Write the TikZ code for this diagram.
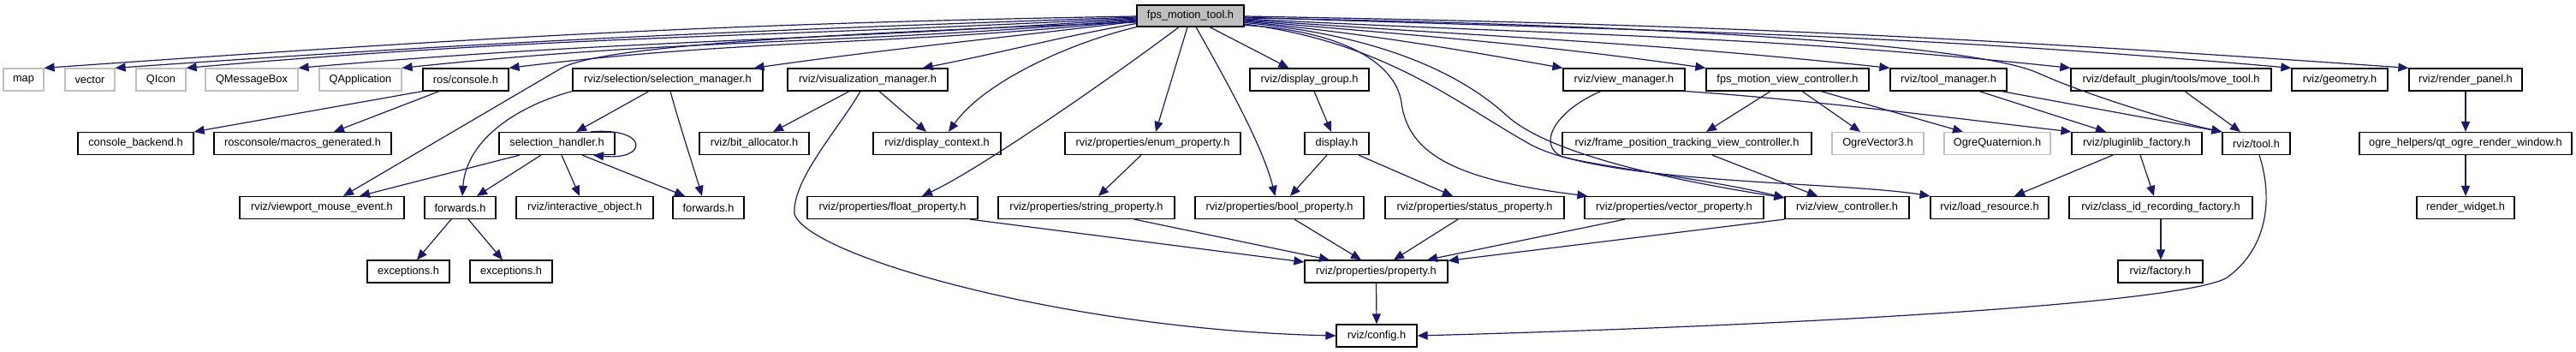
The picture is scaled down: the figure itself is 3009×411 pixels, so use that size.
\documentclass[tikz,border=0pt]{standalone}
\usepackage{fontspec}
\newfontfamily\nodefont{Liberation Sans}
\usetikzlibrary{arrows.meta}
\definecolor{edgec}{RGB}{25,25,112}
\definecolor{greyb}{RGB}{191,191,191}
\begin{document}
\begin{tikzpicture}[x=1pt,y=1pt,
  nd/.style={draw=black, line width=1.2pt, minimum height=26pt, inner sep=0pt, font={\nodefont\fontsize{12.8}{15}\selectfont}},
  gnd/.style={nd, draw=greyb},
  rnd/.style={nd, fill=greyb, minimum height=25pt},
  edg/.style={draw=edgec, line width=1.2pt, -{Triangle[length=12pt,width=10pt]}}]
\useasboundingbox (0,0) rectangle (3009,-411);
\fill[white] (0,0) rectangle (3009,-411);
% row 0
\node[rnd, minimum width=125pt] (root) at (1390.5,-18.5) {fps\_motion\_tool.h};
% row 1
\node[gnd, minimum width=47pt] (map) at (27.5,-93) {map};
\node[gnd, minimum width=58pt] (vector) at (105,-93) {vector};
\node[gnd, minimum width=58pt] (qicon) at (188,-93) {QIcon};
\node[gnd, minimum width=108pt] (qmb) at (294,-93) {QMessageBox};
\node[gnd, minimum width=96pt] (qapp) at (421,-93) {QApplication};
\node[nd, minimum width=100pt] (rc) at (544,-93) {ros/console.h};
\node[nd, minimum width=222pt] (sm) at (780,-93) {rviz/selection/selection\_manager.h};
\node[nd, minimum width=187pt] (vm) at (1013.5,-93) {rviz/visualization\_manager.h};
\node[nd, minimum width=139pt] (dg) at (1529.5,-93) {rviz/display\_group.h};
\node[nd, minimum width=142pt] (vmg) at (1897,-93) {rviz/view\_manager.h};
\node[nd, minimum width=190pt] (fmvc) at (2088,-93) {fps\_motion\_view\_controller.h};
\node[nd, minimum width=136pt] (tm) at (2276,-93) {rviz/tool\_manager.h};
\node[nd, minimum width=234pt] (mt) at (2536,-93) {rviz/default\_plugin/tools/move\_tool.h};
\node[nd, minimum width=112pt] (geo) at (2733,-93) {rviz/geometry.h};
\node[nd, minimum width=132pt] (rp) at (2880,-93) {rviz/render\_panel.h};
% row 2
\node[nd, minimum width=135pt] (cb) at (158.5,-167.5) {console\_backend.h};
\node[nd, minimum width=207pt] (mg) at (353.5,-167.5) {rosconsole/macros\_generated.h};
\node[nd, minimum width=135pt] (sh) at (650.5,-167.5) {selection\_handler.h};
\node[nd, minimum width=128pt] (ba) at (881,-167.5) {rviz/bit\_allocator.h};
\node[nd, minimum width=149pt] (dc) at (1094.5,-167.5) {rviz/display\_context.h};
\node[nd, minimum width=205pt] (ep) at (1346.5,-167.5) {rviz/properties/enum\_property.h};
\node[nd, minimum width=75pt] (disp) at (1561.5,-167.5) {display.h};
\node[nd, minimum width=291pt] (fptvc) at (1970.5,-167.5) {rviz/frame\_position\_tracking\_view\_controller.h};
\node[gnd, minimum width=107pt] (ov3) at (2193.5,-167.5) {OgreVector3.h};
\node[gnd, minimum width=124pt] (oq) at (2333,-167.5) {OgreQuaternion.h};
\node[nd, minimum width=152pt] (pf) at (2496,-167.5) {rviz/pluginlib\_factory.h};
\node[nd, minimum width=79pt] (tool) at (2635.5,-167.5) {rviz/tool.h};
\node[nd, minimum width=248pt] (qt) at (2880,-167.5) {ogre\_helpers/qt\_ogre\_render\_window.h};
% row 3
\node[nd, minimum width=192pt] (vme) at (376,-242.5) {rviz/viewport\_mouse\_event.h};
\node[nd, minimum width=83pt] (fw1) at (537.5,-242.5) {forwards.h};
\node[nd, minimum width=160pt] (io) at (683,-242.5) {rviz/interactive\_object.h};
\node[nd, minimum width=83pt] (fw2) at (827.5,-242.5) {forwards.h};
\node[nd, minimum width=199pt] (fp) at (1042.5,-242.5) {rviz/properties/float\_property.h};
\node[nd, minimum width=206pt] (strp) at (1269,-242.5) {rviz/properties/string\_property.h};
\node[nd, minimum width=197pt] (bp) at (1494.5,-242.5) {rviz/properties/bool\_property.h};
\node[nd, minimum width=209pt] (stp) at (1722.5,-242.5) {rviz/properties/status\_property.h};
\node[nd, minimum width=209pt] (vp) at (1955.5,-242.5) {rviz/properties/vector\_property.h};
\node[nd, minimum width=145pt] (vc) at (2157.5,-242.5) {rviz/view\_controller.h};
\node[nd, minimum width=138pt] (lr) at (2324,-242.5) {rviz/load\_resource.h};
\node[nd, minimum width=214pt] (cidf) at (2524,-242.5) {rviz/class\_id\_recording\_factory.h};
\node[nd, minimum width=114pt] (rw) at (2880,-242.5) {render\_widget.h};
% row 4
\node[nd, minimum width=96pt] (ex1) at (477,-317) {exceptions.h};
\node[nd, minimum width=96pt] (ex2) at (597,-317) {exceptions.h};
\node[nd, minimum width=167pt] (prop) at (1607.5,-317) {rviz/properties/property.h};
\node[nd, minimum width=99pt] (fac) at (2523.5,-317) {rviz/factory.h};
% row 5
\node[nd, minimum width=94pt] (cfg) at (1608,-392) {rviz/config.h};

% ---- edges from root, left side
\draw[edg] ([yshift=-0.5pt]root.west) .. controls +(181:500) and +(4:500) .. (map.north east);
\draw[edg] ([yshift=-1.5pt]root.west) .. controls +(182:470) and +(4:470) .. (vector.north east);
\draw[edg] ([yshift=-2.5pt]root.west) .. controls +(183:435) and +(5:435) .. (qicon.north east);
\draw[edg] ([yshift=-3.5pt]root.west) .. controls +(184:385) and +(5:385) .. (qmb.north east);
\draw[edg] ([yshift=-4.5pt]root.west) .. controls +(185:340) and +(6:340) .. (qapp.north east);
\draw[edg] ([yshift=-5.5pt]root.west) .. controls +(186:290) and +(7:290) .. (rc.north east);
\draw[edg] ([yshift=-6.5pt]root.west) .. controls +(187:177) and +(8:177) .. ([xshift=-11pt]sm.north east);
\draw[edg] ([yshift=-7.5pt]root.west) .. controls (950,-40) and (700,-54) .. (655,-80) -- ([xshift=25pt]vme.north);
\draw[edg] ([yshift=-9pt]root.west) .. controls +(190:100) and +(11:100) .. ([xshift=-30pt]vm.north east);
\draw[edg] (root.south west) .. controls (1250,-50) and (1150,-95) .. ([xshift=13.5pt]dc.north);
\draw[edg] ([xshift=-13.5pt]root.south) .. controls (1320,-75) and (1150,-195) .. ([xshift=34.5pt]fp.north);
\draw[edg] ([xshift=-3.5pt]root.south) -- ([xshift=3.5pt]ep.north);
\draw[edg] ([xshift=6.5pt]root.south) .. controls (1430,-90) and (1475,-170) .. ([xshift=-5pt]bp.north);
\draw[edg] ([xshift=22.5pt]root.south) -- ([xshift=-24pt]dg.north);
% ---- edges from root, right side
\draw[edg] ([yshift=-0.5pt]root.east) .. controls +(-1:530) and +(176:530) .. (rp.north west);
\draw[edg] ([yshift=-1.5pt]root.east) .. controls +(-2:480) and +(175:480) .. (geo.north west);
\draw[edg] ([yshift=-2.5pt]root.east) .. controls (1900,-28) and (2300,-50) .. (2380,-85) .. controls (2440,-112) and (2540,-142) .. (tool.north west);
\draw[edg] ([yshift=-3.5pt]root.east) .. controls +(-3:380) and +(174:380) .. (mt.north west);
\draw[edg] ([yshift=-4.5pt]root.east) .. controls +(-4:295) and +(174:295) .. (tm.north west);
\draw[edg] ([yshift=-5.5pt]root.east) .. controls +(-5:210) and +(172:210) .. (fmvc.north west);
\draw[edg] ([yshift=-6.5pt]root.east) .. controls +(-6:150) and +(170:150) .. (vmg.north west);
\draw[edg] ([yshift=-8pt]root.east) .. controls (1600,-40) and (1700,-80) .. (1760,-135) .. controls (1810,-180) and (1950,-210) .. ([yshift=-2pt]vc.north west);
\draw[edg] ([yshift=-9.5pt]root.east) .. controls (1620,-50) and (1700,-120) .. (1790,-170) .. controls (1880,-215) and (2150,-212) .. (lr.north west);
\draw[edg] ([yshift=-11pt]root.east) .. controls (1560,-35) and (1630,-70) .. (1637,-120) .. controls (1645,-180) and (1700,-210) .. ([xshift=4pt]vp.north west);

% ---- other edges
\draw[edg] (rc.south west) -- (cb.north east);
\draw[edg] ([xshift=-31pt]rc.south) -- ([xshift=36.5pt]mg.north);
\draw[edg] ([xshift=-22pt]sm.south) -- ([xshift=22.5pt]sh.north);
\draw[edg] ([xshift=3pt]sm.south) .. controls (795,-150) and (810,-195) .. ([xshift=-7.5pt]fw2.north);
\draw[edg] (sm.south west) .. controls (610,-122) and (545,-160) .. ([xshift=2.5pt]fw1.north);
\draw[edg] ([xshift=39.5pt]sh.north) .. controls (758,-148) and (758,-188) .. ([xshift=42.5pt]sh.south);
\draw[edg] ([xshift=-43.5pt]sh.south) -- ([xshift=44pt]vme.north);
\draw[edg] ([xshift=-18.5pt]sh.south) -- ([xshift=19.5pt]fw1.north);
\draw[edg] ([xshift=5.5pt]sh.south) -- ([xshift=-6pt]io.north);
\draw[edg] ([xshift=29.5pt]sh.south) -- ([xshift=-27.5pt]fw2.north);
\draw[edg] ([xshift=-10.5pt]fw1.south) -- ([xshift=10pt]ex1.north);
\draw[edg] ([xshift=9.5pt]fw1.south) -- ([xshift=-10pt]ex2.north);
\draw[edg] ([xshift=-21.5pt]vm.south) -- ([xshift=22pt]ba.north);
\draw[edg] ([xshift=13.5pt]vm.south) -- ([xshift=-12.5pt]dc.north);
\draw[edg] ([xshift=-8.5pt]vm.south) .. controls (980,-150) and (925,-210) .. (928,-250) .. controls (945,-300) and (1250,-385) .. (cfg.west);
\draw[edg] ([xshift=5.5pt]dg.south) -- ([xshift=-6.5pt]disp.north);
\draw[edg] ([xshift=-11.5pt]disp.south) -- ([xshift=12.5pt]bp.north);
\draw[edg] ([xshift=25.5pt]disp.south) -- ([xshift=-25.5pt]stp.north);
\draw[edg] ([xshift=-13.5pt]ep.south) -- ([xshift=14pt]strp.north);
\draw[edg] ([xshift=90.5pt]fp.south) -- ([yshift=11pt]prop.west);
\draw[edg] ([xshift=56pt]strp.south) -- ([xshift=-54.5pt]prop.north);
\draw[edg] ([xshift=17.5pt]bp.south) -- ([xshift=-17.5pt]prop.north);
\draw[edg] ([xshift=-19.5pt]stp.south) -- ([xshift=20.5pt]prop.north);
\draw[edg] ([xshift=-57.5pt]vp.south) -- ([xshift=59.5pt]prop.north);
\draw[edg] (vc.south west) -- ([yshift=-1pt]prop.north east);
\draw[edg] (prop.south) -- (cfg.north);
\draw[edg] ([xshift=3.5pt]tool.south) .. controls (2655,-230) and (2650,-290) .. (2600,-325) .. controls (2540,-355) and (2100,-380) .. (cfg.east);
\draw[edg] ([xshift=-27pt]vmg.south) .. controls (1815,-130) and (1795,-170) .. (1825,-183) .. controls (1870,-195) and (2000,-210) .. ([yshift=-2pt]vc.north west);
\draw[edg] (vmg.south east) .. controls (2100,-115) and (2300,-140) .. (pf.north west);
\draw[edg] ([xshift=36pt]tm.south) -- ([xshift=-36pt]pf.north);
\draw[edg] ([xshift=62pt]tm.south) -- (tool.north west);
\draw[edg] ([xshift=16pt]mt.south) -- ([xshift=-18.5pt]tool.north);
\draw[edg] ([xshift=-20pt]fmvc.south) -- ([xshift=22.5pt]fptvc.north);
\draw[edg] ([xshift=17pt]fmvc.south) -- ([xshift=-20.5pt]ov3.north);
\draw[edg] ([xshift=39pt]fmvc.south) -- ([xshift=-40pt]oq.north);
\draw[edg] ([xshift=29.5pt]fptvc.south) -- ([xshift=-34.5pt]vc.north);
\draw[edg] ([xshift=-28pt]pf.south) -- ([xshift=29pt]lr.north);
\draw[edg] ([xshift=4pt]pf.south) -- ([xshift=-8pt]cidf.north);
\draw[edg] (cidf.south) -- (cidf.south |- fac.north);
\draw[edg] (rp.south) -- (qt.north);
\draw[edg] (qt.south) -- (rw.north);
\end{tikzpicture}
\end{document}
